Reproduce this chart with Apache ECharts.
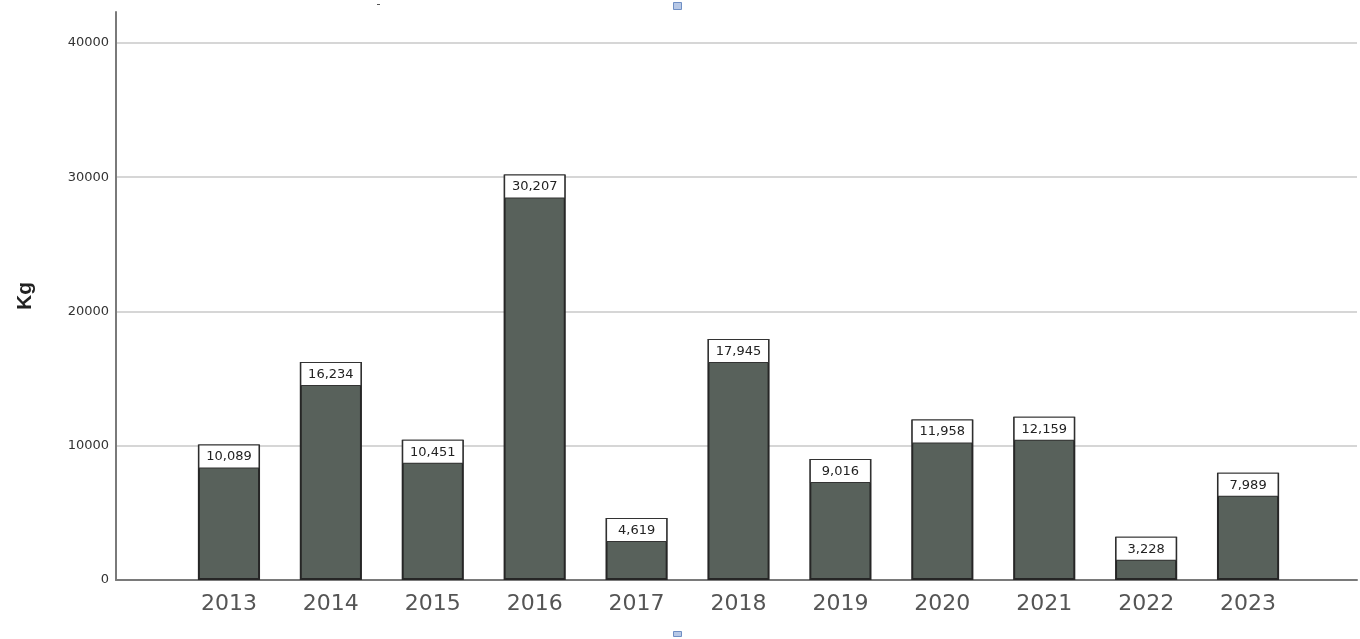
<!DOCTYPE html>
<html>
<head>
<meta charset="utf-8">
<script src="https://cdn.jsdelivr.net/npm/echarts@6/dist/echarts.min.js"></script>
<style>html,body{margin:0;padding:0;background:#fff}#c{width:1360px;height:639px}</style>
</head>
<body>
<div id="c"></div>
<script>
const years = ['2013','2014','2015','2016','2017','2018','2019','2020','2021','2022','2023'];
const kg = [10089, 16234, 10451, 30207, 4619, 17945, 9016, 11958, 12159, 3228, 7989];
const yTitle = 'Kg';

const chart = echarts.init(document.getElementById('c'), null, {renderer: 'canvas'});
const yMax = 42300;
const grid = '#d6d6d6';
const font = 'DejaVu Sans, Verdana, sans-serif';
chart.setOption({
  animation: false,
  backgroundColor: '#ffffff',
  grid: [
    {left: 116, right: 3, top: 12, bottom: 59},
    {left: 178, right: 61, top: 12, bottom: 59}
  ],
  xAxis: [
    {gridIndex: 0, type: 'value', min: 0, max: 1, axisLine: {show: true, lineStyle: {color: '#7a7a7a', width: 2}},
     axisTick: {show: false}, axisLabel: {show: false}, splitLine: {show: false}},
    {gridIndex: 1, type: 'category', data: years, axisLine: {show: false}, axisTick: {show: false},
     axisLabel: {color: '#555', fontSize: 22, fontFamily: font, margin: 13}}
  ],
  yAxis: [
    {gridIndex: 0, type: 'value', min: 0, max: yMax, interval: 10000,
     name: yTitle, nameLocation: 'middle', nameGap: 80, nameRotate: 90,
     nameTextStyle: {fontSize: 21, fontWeight: 'bold', color: '#222', fontFamily: 'Liberation Sans, Arial, sans-serif'},
     axisLine: {show: true, lineStyle: {color: '#7a7a7a', width: 2}},
     axisTick: {show: false},
     axisLabel: {color: '#333', fontSize: 13, margin: 7, showMaxLabel: false,
                 formatter: v => String(v), fontFamily: font},
     splitLine: {show: true, lineStyle: {color: [grid, grid, grid, grid, grid, 'rgba(0,0,0,0)'], width: 2}}},
    {gridIndex: 1, type: 'value', min: 0, max: yMax, interval: 10000, show: false, splitLine: {show: false}}
  ],
  series: [{
    type: 'bar', xAxisIndex: 1, yAxisIndex: 1, data: kg, barWidth: '61%',
    itemStyle: {color: '#58615b', borderColor: '#262626', borderWidth: 2},
    label: {
      show: true, position: 'insideTop', distance: 1,
      formatter: p => p.value.toLocaleString('en-US'),
      color: '#222', fontSize: 13, fontFamily: font,
      backgroundColor: '#ffffff', borderColor: '#333', borderWidth: 1,
      width: 57, align: 'center', padding: [5, 1, 4, 1]
    }
  }],
  graphic: [
    {type: 'rect', left: 673, top: 2, shape: {width: 8, height: 7}, style: {fill: '#b7c8e6', stroke: '#6f8fc4', lineWidth: 1}},
    {type: 'rect', left: 673, top: 631, shape: {width: 8, height: 5}, style: {fill: '#b7c8e6', stroke: '#6f8fc4', lineWidth: 1}},
    {type: 'rect', left: 377, top: 4, shape: {width: 3, height: 1}, style: {fill: '#555'}}
  ]
});
</script>
</body>
</html>
